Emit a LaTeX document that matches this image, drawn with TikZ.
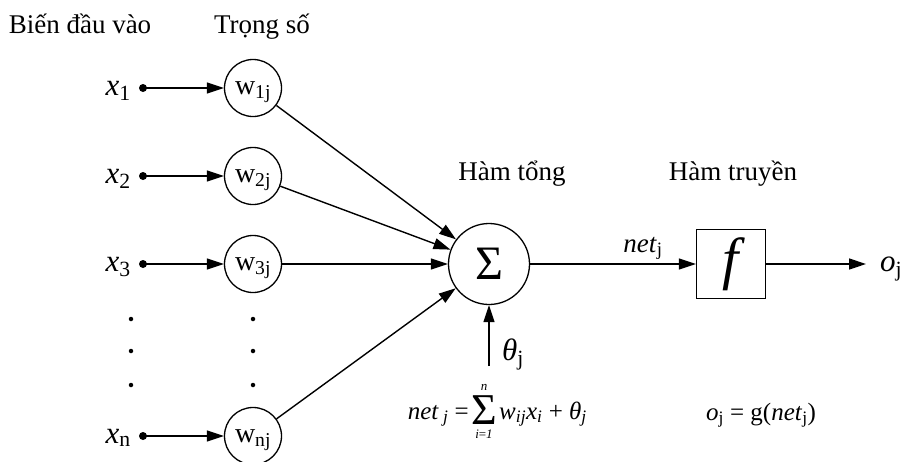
\documentclass[tikz,border=0pt]{standalone}
\usepackage{fontspec}
\setmainfont{Liberation Serif}
\usetikzlibrary{positioning,arrows.meta,calc}
\tikzset{
  flowarrow/.style={-{Triangle[length=17pt,width=11pt]}, line width=1.4pt},
  weight/.style={draw, circle, line width=1.3pt, minimum size=57pt, inner sep=0pt, text height=13pt, text depth=0pt, font=\fontsize{28}{32}\selectfont},
  summer/.style={draw, circle, line width=1.3pt, minimum size=81pt, inner sep=0pt, font=\fontsize{48}{52}\selectfont},
  transfer/.style={draw, rectangle, line width=1.3pt, minimum size=69pt, inner sep=0pt, font=\fontsize{58}{62}\selectfont\itshape},
  heading/.style={font=\fontsize{27}{32}\selectfont, inner sep=0pt, anchor=base},
  sym/.style={font=\fontsize{31}{35}\selectfont, inner sep=0pt},
  formula/.style={font=\fontsize{25}{30}\selectfont, inner sep=0pt},
  limit/.style={font=\fontsize{13}{15}\selectfont\itshape, inner sep=0pt},
  indot/.style={circle, fill, inner sep=0pt, minimum size=8pt},
  vdot/.style={circle, fill, inner sep=0pt, minimum size=4.5pt}
}

\begin{document}
\begin{tikzpicture}[x=1pt, y=-1pt]
  \useasboundingbox (0,0) rectangle (901,461);
  % headings
  \node[heading] (hin) at (80,33) {Biến đầu vào};
  \node[heading] (hw) at (262,33) {Trọng số};
  \node[heading] (hsum) at (512,180) {Hàm tổng};
  \node[heading] (hf) at (733,180) {Hàm truyền};

  % inputs and weights
  \node[indot] (d1) at (143,88) {};
  \node[indot] (d2) at (143,176) {};
  \node[indot] (d3) at (143,264) {};
  \node[indot] (dn) at (143,436) {};
  \node[sym, anchor=base east] (x1) at (131,95) {\textit{x}\textsubscript{1}};
  \node[sym, anchor=base east] (x2) at (131,183) {\textit{x}\textsubscript{2}};
  \node[sym, anchor=base east] (x3) at (131,271) {\textit{x}\textsubscript{3}};
  \node[sym, anchor=base east] (xn) at (131,443) {\textit{x}\textsubscript{n}};
  \node[weight] (w1) at (253,88) {w\textsubscript{1j}};
  \node[weight] (w2) at (253,176) {w\textsubscript{2j}};
  \node[weight] (w3) at (253,264) {w\textsubscript{3j}};
  \node[weight] (wn) at (253,436) {w\textsubscript{nj}};
  \draw[flowarrow] (d1.center) -- (w1);
  \draw[flowarrow] (d2.center) -- (w2);
  \draw[flowarrow] (d3.center) -- (w3);
  \draw[flowarrow] (dn.center) -- (wn);
  \foreach \y in {319,351,385} {
    \node[vdot] (dx\y) at (131,\y) {};
    \node[vdot] (dw\y) at (253,\y) {};
  }

  % summing junction
  \node[summer] (sum) at (489,264) {Σ};
  \draw[flowarrow] (w1) -- (sum);
  \draw[flowarrow] (w2) -- (sum);
  \draw[flowarrow] (w3) -- (sum);
  \draw[flowarrow] (wn) -- (sum);
  \coordinate (th) at (489,366);
  \draw[flowarrow] (th) -- (sum);
  \node[sym, anchor=base west] (theta) at (502,360) {\textit{θ}\textsubscript{j}};

  % transfer function
  \node[transfer] (f) at (731,264) {f};
  \draw[flowarrow] (sum) -- (f);
  \node[sym, anchor=base, font=\fontsize{27}{30}\selectfont] (net) at (643,252) {\textit{net}\textsubscript{j}};
  \coordinate (out) at (866,264);
  \draw[flowarrow] (f) -- (out);
  \node[sym, anchor=base west] (oj) at (880,271) {\textit{o}\textsubscript{j}};

  % formulas
  \node[formula, anchor=base, font=\fontsize{44}{48}\selectfont] (fsig) at (484,424) {Σ};
  \node[limit, above=4pt of fsig] (fn) {n};
  \node[limit, below=5pt of fsig] (fi) {i\textup{=}1};
  \node[formula, anchor=base east] (flhs) at ($(fsig.base west)+(-2,-5)$) {\textit{net}\,\textsubscript{\textit{j}} =};
  \node[formula, anchor=base west] (frhs) at ($(fsig.base east)+(2,-5)$) {\textit{w}\textsubscript{\textit{ij}}\textit{x}\textsubscript{\textit{i}} + \textit{θ}\textsubscript{\textit{j}}};
  \node[formula, anchor=base] (fout) at (761,420) {\textit{o}\textsubscript{j} = g(\textit{net}\textsubscript{j})};
\end{tikzpicture}
\end{document}
